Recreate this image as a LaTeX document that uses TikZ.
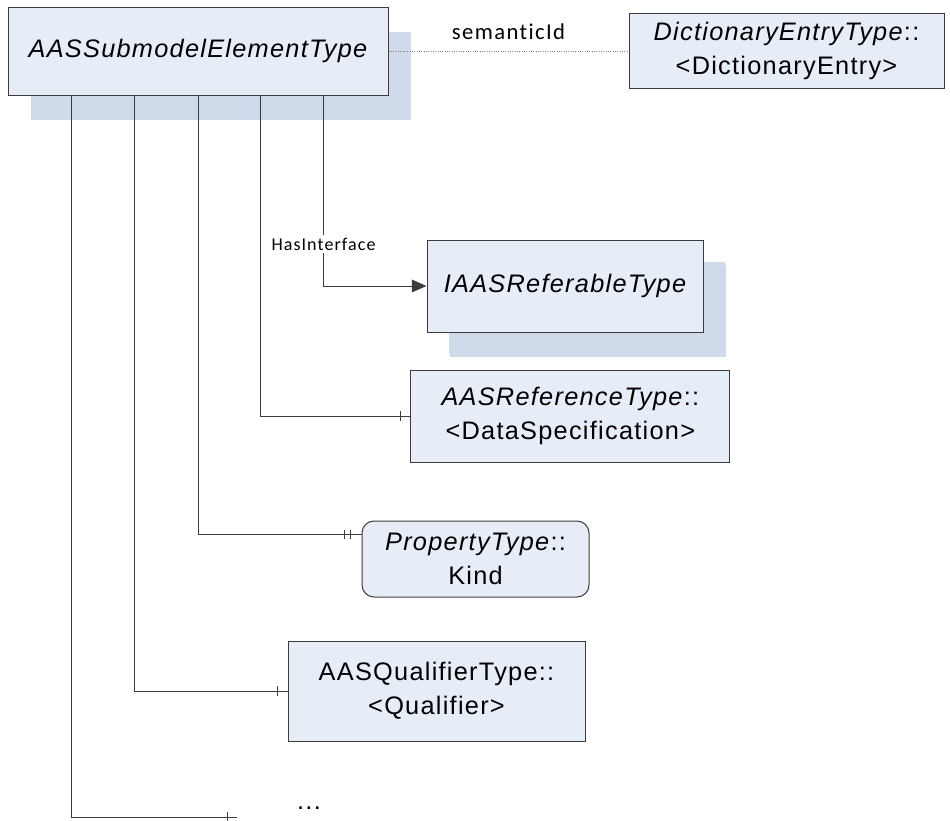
\documentclass[tikz,border=0pt]{standalone}
\usepackage{fontspec}
\setmainfont{Liberation Sans}
\newfontfamily\boxfont[LetterSpace=5]{Liberation Sans}
\newfontfamily\lblfont[LetterSpace=6, Ligatures=NoCommon]{Carlito}
\usetikzlibrary{arrows.meta, positioning, calc, shadows, decorations.markings}
\definecolor{boxbg}{HTML}{E7EDF7}
\definecolor{shadowbg}{HTML}{CFDAEB}
\definecolor{edge}{HTML}{3C3C3C}

\begin{document}
\begin{tikzpicture}[
    x=0.75pt, y=-0.75pt,
    every node/.style={font=\boxfont\fontsize{19}{25.5}\selectfont},
    cls/.style={rectangle, draw=edge, line width=0.75pt, fill=boxbg,
                align=center, inner sep=0pt},
    shd/.style={cls, drop shadow={shadow xshift=17pt, shadow yshift=-19pt,
                fill=shadowbg, opacity=1}},
    tag/.style={font=\lblfont\fontsize{13.5}{16}\selectfont, fill=white, inner sep=2pt},
    link/.style={draw=edge, line width=0.75pt},
    arr/.style={link, -{Triangle[length=11pt, width=9.5pt]}},
    one/.style={postaction={decorate, decoration={markings,
        mark=at position -7.5pt with {\draw[edge, line width=0.75pt] (0pt,-3.4pt) -- (0pt,3.4pt);}}}},
    two/.style={postaction={decorate, decoration={markings,
        mark=at position -12.75pt with {\draw[edge, line width=0.75pt] (0pt,-3.4pt) -- (0pt,3.4pt);},
        mark=at position -8.25pt with {\draw[edge, line width=0.75pt] (0pt,-3.4pt) -- (0pt,3.4pt);}}}}
]
    \useasboundingbox (0,0) rectangle (950,821);

    \node[shd, minimum width=285pt, minimum height=66pt] (elem) at (198,51) {\itshape AASSubmodelElementType};
    \node[cls, minimum width=236.25pt, minimum height=56.25pt, right=180pt of elem] (dict)
        {\textit{DictionaryEntryType}::\\<DictionaryEntry>};
    \node[shd, minimum width=207pt, minimum height=69pt,
          drop shadow={shadow xshift=16.5pt, shadow yshift=-16.5pt, fill=shadowbg, opacity=1}] (iref) at (565,286)
        {\itshape IAASReferableType};
    \node[cls, minimum width=239.25pt, minimum height=69pt, below=27.75pt of iref, xshift=4pt] (ref)
        {\textit{AASReferenceType}::\\<DataSpecification>};
    \node[cls, rounded corners=9pt, minimum width=170.25pt, minimum height=57pt] (prop) at (475.5,559)
        {\textit{PropertyType}::\\Kind};
    \node[cls, minimum width=222.75pt, minimum height=75pt] (qual) at (436.5,691)
        {AASQualifierType::\\<Qualifier>};
    \node (more) at (309,808) {...};
    \coordinate (moreend) at (237,817);

    \draw[link, densely dotted, draw=gray] (elem.east) -- (dict.west)
        node[midway, above=8.25pt, inner sep=0pt, font=\lblfont\fontsize{17}{20}\selectfont] {semanticId};
    \draw[arr] ($(elem.south west)+(316,0)$) |- (iref.west) node[pos=0.39, tag] {HasInterface};
    \draw[link, one] ($(elem.south west)+(253,0)$) |- (ref.west);
    \draw[link, two] ($(elem.south west)+(191,0)$) |- ($(prop.north west)+(0,14)$);
    \draw[link, one] ($(elem.south west)+(127,0)$) |- (qual.west);
    \draw[link, one] ($(elem.south west)+(64,0)$) |- (moreend);
\end{tikzpicture}
\end{document}
